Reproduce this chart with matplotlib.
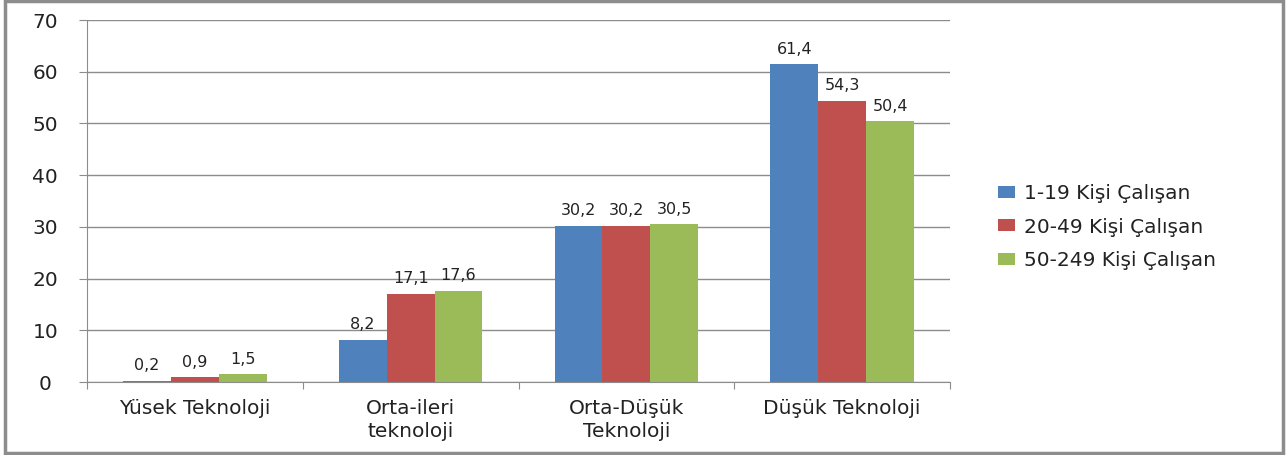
import matplotlib.pyplot as plt
import numpy as np
from matplotlib.patches import Rectangle

categories = ["Yüsek Teknoloji", "Orta-ileri\nteknoloji", "Orta-Düşük\nTeknoloji", "Düşük Teknoloji"]
series_names = ["1-19 Kişi Çalışan", "20-49 Kişi Çalışan", "50-249 Kişi Çalışan"]
small = [0.2, 8.2, 30.2, 61.4]
medium = [0.9, 17.1, 30.2, 54.3]
large = [1.5, 17.6, 30.5, 50.4]
colors = ["#4F81BD", "#C0504D", "#9BBB59"]

plt.rcParams['font.family'] = ['DejaVu Sans']

fig = plt.figure(figsize=(12.87, 4.55), dpi=100)
ax = fig.add_axes([0.0676, 0.1604, 0.6706, 0.7956])

x = np.arange(len(categories))
w = 0.222
for i, (vals, name, c) in enumerate(zip([small, medium, large], series_names, colors)):
    pos = x + (i - 1) * w
    ax.bar(pos, vals, width=w, color=c, label=name, zorder=3)
    for p, v in zip(pos, vals):
        ax.text(p, v + 1.5, f"{v:.1f}".replace(".", ","), ha="center", va="bottom",
                fontsize=11.5, color="#222222")

ax.set_xlim(-0.5, 3.5)
ax.set_ylim(0, 70)
ax.set_yticks(range(0, 71, 10))
ax.yaxis.grid(True, color="#8c8c8c", linewidth=1, zorder=0)
ax.set_axisbelow(True)
for s in ["top", "right"]:
    ax.spines[s].set_visible(False)
for s in ["left", "bottom"]:
    ax.spines[s].set_color("#8c8c8c")
ax.tick_params(axis="y", length=6, color="#8c8c8c", labelsize=14.5, pad=24, labelcolor="#222222")
for lbl in ax.get_yticklabels():
    lbl.set_horizontalalignment("center")
ax.set_xticks(np.arange(-0.5, 4.0, 1.0))
ax.set_xticklabels([])
ax.tick_params(axis="x", length=5, color="#8c8c8c")
ax.set_xticks(x, minor=True)
ax.set_xticklabels(categories, minor=True, fontsize=14.5, color="#222222", linespacing=1.3)
ax.tick_params(axis="x", which="minor", length=0, pad=12)

leg = fig.legend(loc="center left", bbox_to_anchor=(0.7755, 0.501), frameon=False,
                 fontsize=14.5, handlelength=0.85, handleheight=0.55, labelspacing=0.72,
                 handletextpad=0.45, borderpad=0, borderaxespad=0)
for t in leg.get_texts():
    t.set_color("#222222")

fig.patches.append(Rectangle((0.004, 0.004), 0.993, 0.993, transform=fig.transFigure,
                             fill=False, edgecolor="#8c8c8c", linewidth=2.5))

fig.savefig("out.png", dpi=100)
